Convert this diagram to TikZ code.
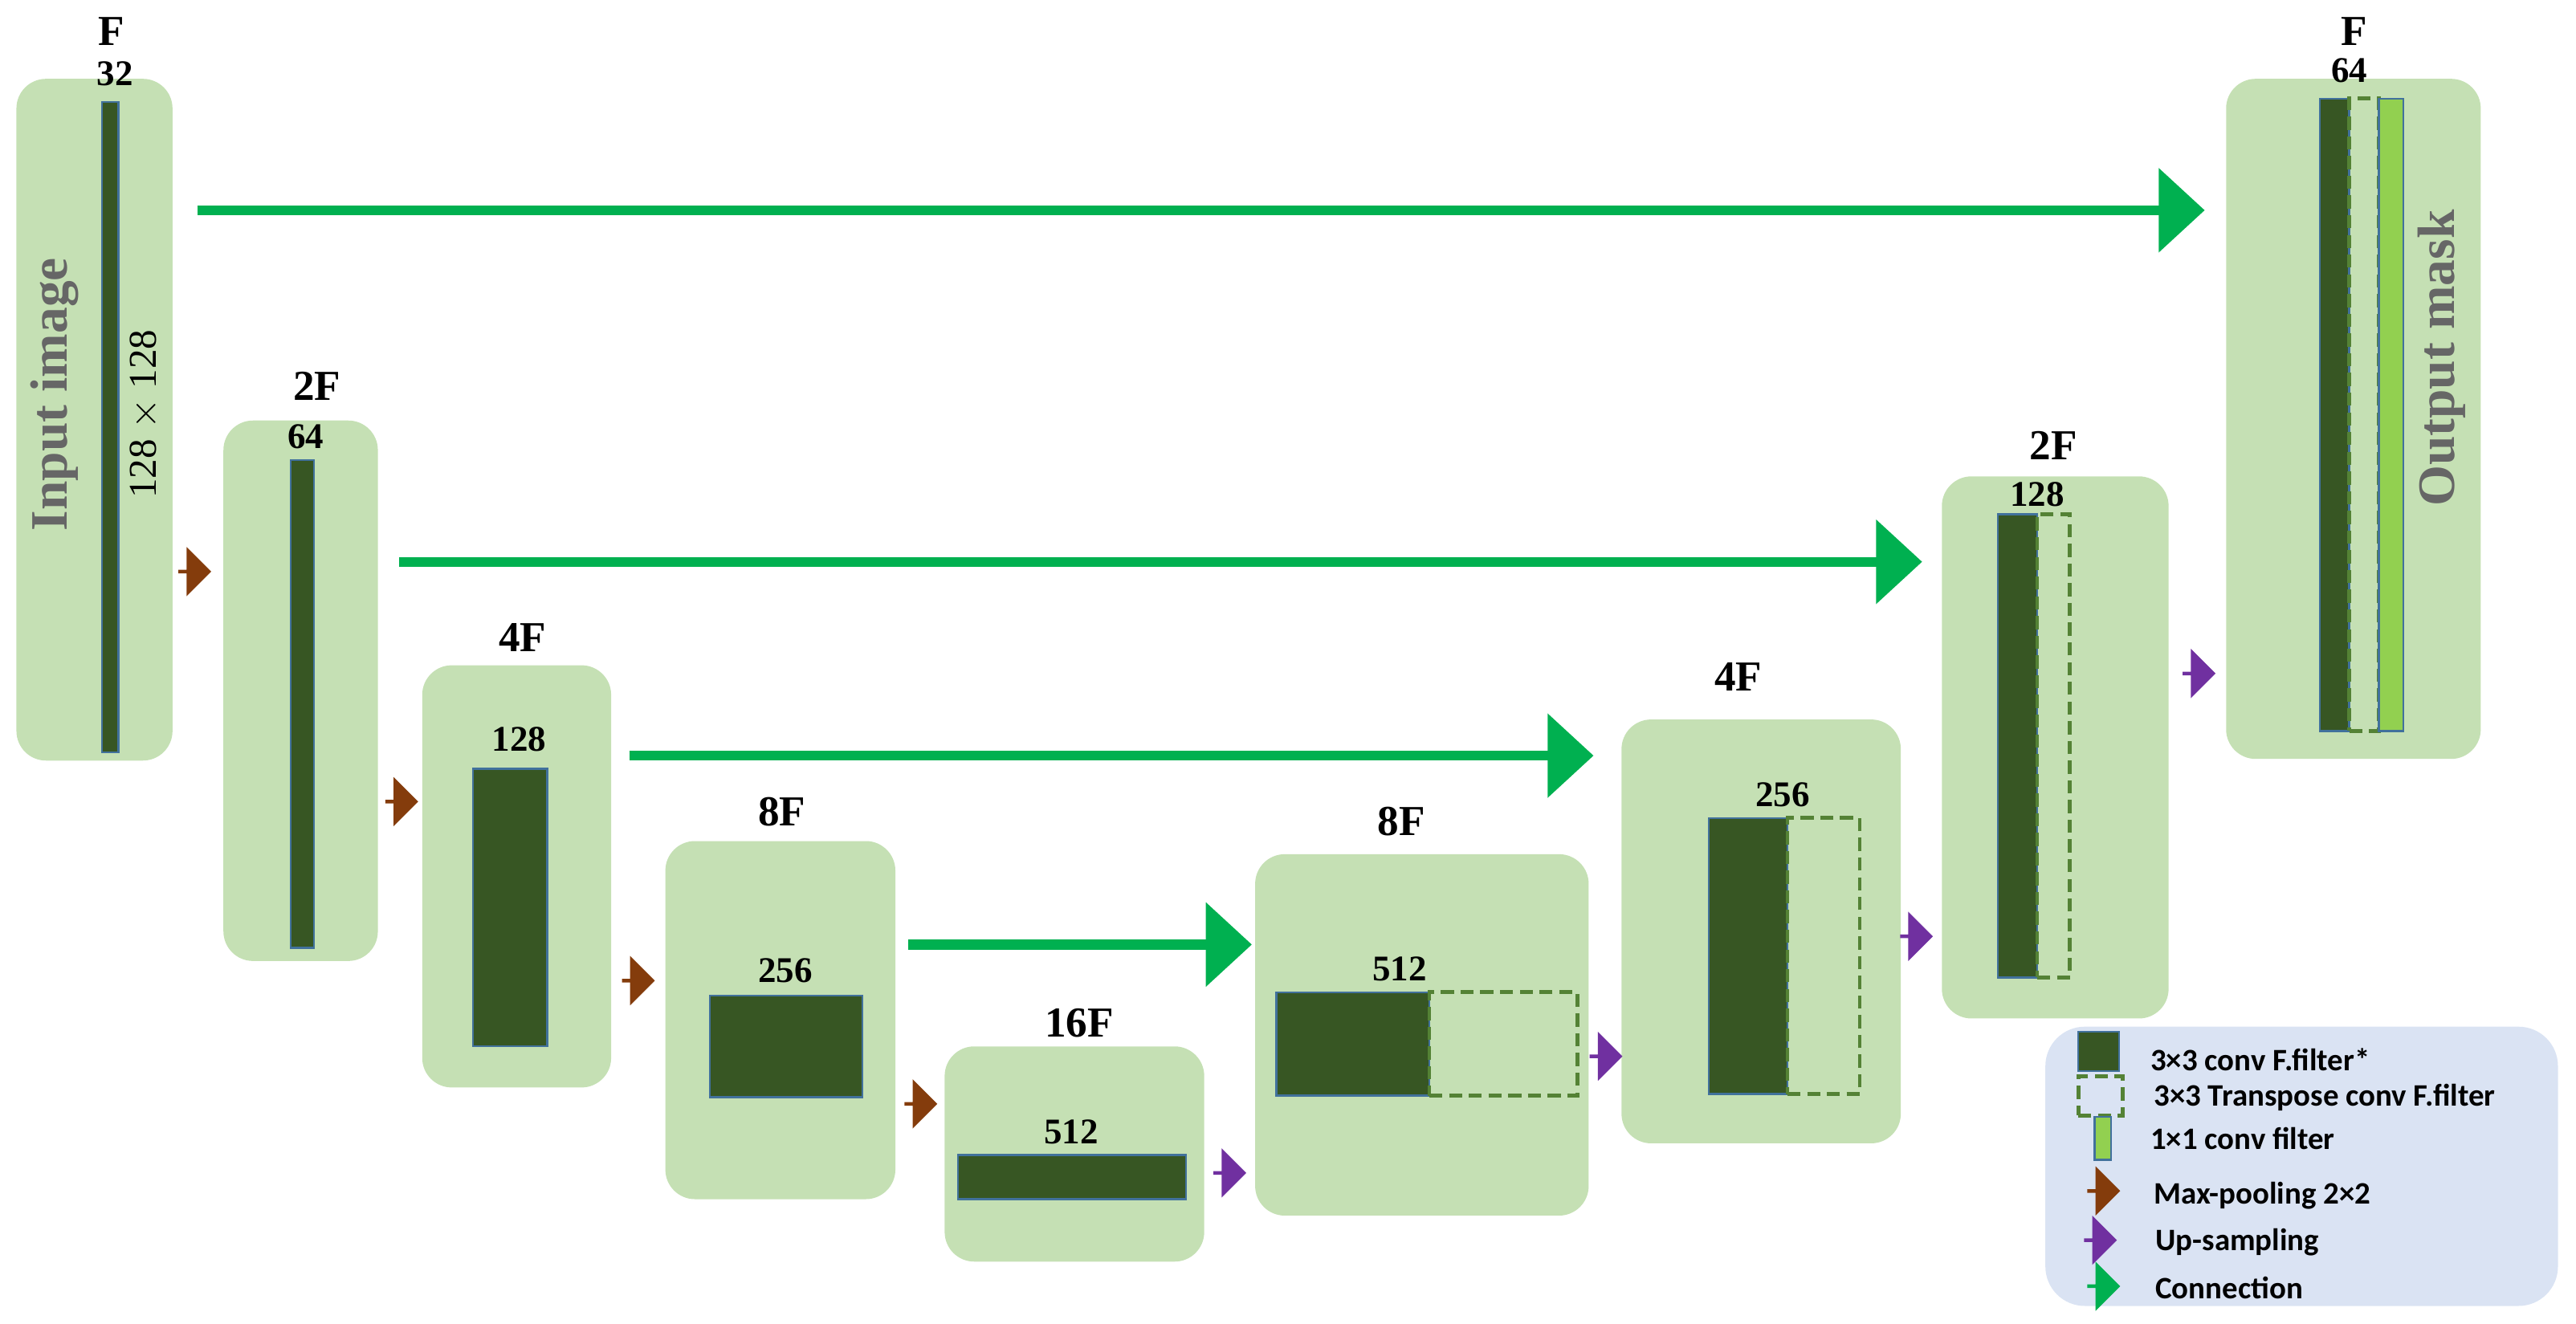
\documentclass[tikz,border=0pt]{standalone}
\usepackage{fontspec}
\setmainfont{Liberation Serif}
\newfontfamily\leg{Carlito}
\usetikzlibrary{fit,shapes.arrows,arrows.meta}
\definecolor{blk}{HTML}{C5E0B4}
\definecolor{dk}{HTML}{375623}
\definecolor{bd}{HTML}{41719C}
\definecolor{gr}{HTML}{00B050}
\definecolor{br}{HTML}{843C0C}
\definecolor{pu}{HTML}{7030A0}
\definecolor{lg}{HTML}{92D050}
\definecolor{ds}{HTML}{548235}
\definecolor{lb}{HTML}{DAE3F3}
\newcommand{\bx}[6]{\node[#6, fit={(#2,#3)(#4,#5)}, inner sep=0pt] (#1) {};}
\begin{document}
\begin{tikzpicture}[x=0.5pt,y=-0.5pt,
  block/.style={fill=blk, rounded corners=9pt, draw=none},
  conv/.style={fill=dk, draw=bd, line width=0.6pt},
  tconv/.style={draw=ds, dashed, line width=1.2pt, dash pattern=on 4pt off 2pt},
  one/.style={fill=lg, draw=bd, line width=0.6pt},
  lbl/.style={font=\bfseries\fontsize{13}{13}\selectfont},
  num/.style={font=\bfseries\fontsize{11}{11}\selectfont},
  pool/.style={single arrow, fill=#1, draw=none, minimum height=10pt, minimum width=15pt, single arrow head extend=2.5pt, inner sep=0pt},
  conn/.style={draw=gr, line width=3pt, -{Triangle[length=14pt,width=25pt]}},
  lt/.style={font=\leg\bfseries\fontsize{9.5}{9.5}\selectfont, anchor=west}]
\useasboundingbox (0,0) rectangle (1568,806);
% blocks
\bx{b1}{10}{48}{105}{463}{block}
\bx{b2}{136}{256}{230}{585}{block}
\bx{b3}{257}{405}{372}{662}{block}
\bx{b4}{405}{512}{545}{730}{block}
\bx{b5}{575}{637}{733}{768}{block}
\bx{b6}{764}{520}{967}{740}{block}
\bx{b7}{987}{438}{1157}{696}{block}
\bx{b8}{1182}{290}{1320}{620}{block}
\bx{b9}{1355}{48}{1510}{462}{block}
% conv bars
\bx{c1}{62}{62}{72}{458}{conv}
\bx{c2}{177}{280}{191}{577}{conv}
\bx{c3}{288}{468}{333}{637}{conv}
\bx{c4}{432}{606}{525}{668}{conv}
\bx{c5}{583}{703}{722}{730}{conv}
\bx{c6}{777}{604}{870}{667}{conv}
\bx{t6}{870}{604}{960}{667}{tconv}
\bx{c7}{1040}{498}{1088}{666}{conv}
\bx{t7}{1088}{498}{1132}{666}{tconv}
\bx{c8}{1216}{313}{1240}{595}{conv}
\bx{t8}{1240}{313}{1260}{595}{tconv}
\bx{c9}{1412}{60}{1430}{445}{conv}
\bx{t9}{1430}{60}{1448}{445}{tconv}
\bx{o9}{1448}{60}{1463}{445}{one}
% labels
\node[lbl] (l1) at (68,19) {F};
\node[num] (n1) at (70,45) {32};
\node[lbl] (l2) at (193,235) {2F};
\node[num] (n2) at (186,266) {64};
\node[lbl] (l3) at (318,388) {4F};
\node[num] (n3) at (316,450) {128};
\node[lbl] (l4) at (476,494) {8F};
\node[num] (n4) at (478,591) {256};
\node[lbl] (l5) at (657,623) {16F};
\node[num] (n5) at (652,689) {512};
\node[lbl] (l6) at (853,500) {8F};
\node[num] (n6) at (852,590) {512};
\node[lbl] (l7) at (1058,412) {4F};
\node[num] (n7) at (1085,484) {256};
\node[lbl] (l8) at (1250,271) {2F};
\node[num] (n8) at (1240,301) {128};
\node[lbl] (l9) at (1433,19) {F};
\node[num] (n9) at (1430,43) {64};
\node[rotate=90, text=black!60, font=\bfseries\fontsize{16}{16}\selectfont] (in) at (33,240) {Input image};
\node[rotate=90, font=\fontsize{12}{12}\selectfont] (sz) at (88,252) {128 $\times$ 128};
\node[rotate=90, text=black!60, font=\bfseries\fontsize{16}{16}\selectfont] (out) at (1486,218) {Output mask};
% pooling / upsampling arrows
\node[pool=br] (p1) at (118,348) {};
\node[pool=br] (p2) at (244,488) {};
\node[pool=br] (p3) at (388,597) {};
\node[pool=br] (p4) at (560,672) {};
\node[pool=pu] (u1) at (748,714) {};
\node[pool=pu] (u2) at (977,643) {};
\node[pool=pu] (u3) at (1166,570) {};
\node[pool=pu] (u4) at (1338,410) {};
% connections
\coordinate (s1) at (120,128); \coordinate (e1) at (1342,128);
\coordinate (s2) at (243,342); \coordinate (e2) at (1170,342);
\coordinate (s3) at (383,460); \coordinate (e3) at (970,460);
\coordinate (s4) at (553,575); \coordinate (e4) at (762,575);
\draw[conn] (s1) -- (e1);
\draw[conn] (s2) -- (e2);
\draw[conn] (s3) -- (e3);
\draw[conn] (s4) -- (e4);
% legend
\bx{lgd}{1245}{625}{1557}{795}{fill=lb, rounded corners=12pt}
\bx{k1}{1265}{628}{1290}{652}{conv}
\bx{k2}{1265}{655}{1292}{679}{tconv}
\bx{k3}{1275}{680}{1285}{706}{one}
\node[pool=br] (k4) at (1280,725) {};
\node[pool=pu] (k5) at (1278,755) {};
\node[pool=gr] (k6) at (1280,783) {};
\node[lt] (m1) at (1302,645) {3×3 conv F.filter*};
\node[lt] (m2) at (1304,668) {3×3 Transpose conv F.filter};
\node[lt] (m3) at (1302,693) {1×1 conv filter};
\node[lt] (m4) at (1304,728) {Max-pooling 2×2};
\node[lt] (m5) at (1305,756) {Up-sampling};
\node[lt] (m6) at (1305,784) {Connection};
\end{tikzpicture}
\end{document}
